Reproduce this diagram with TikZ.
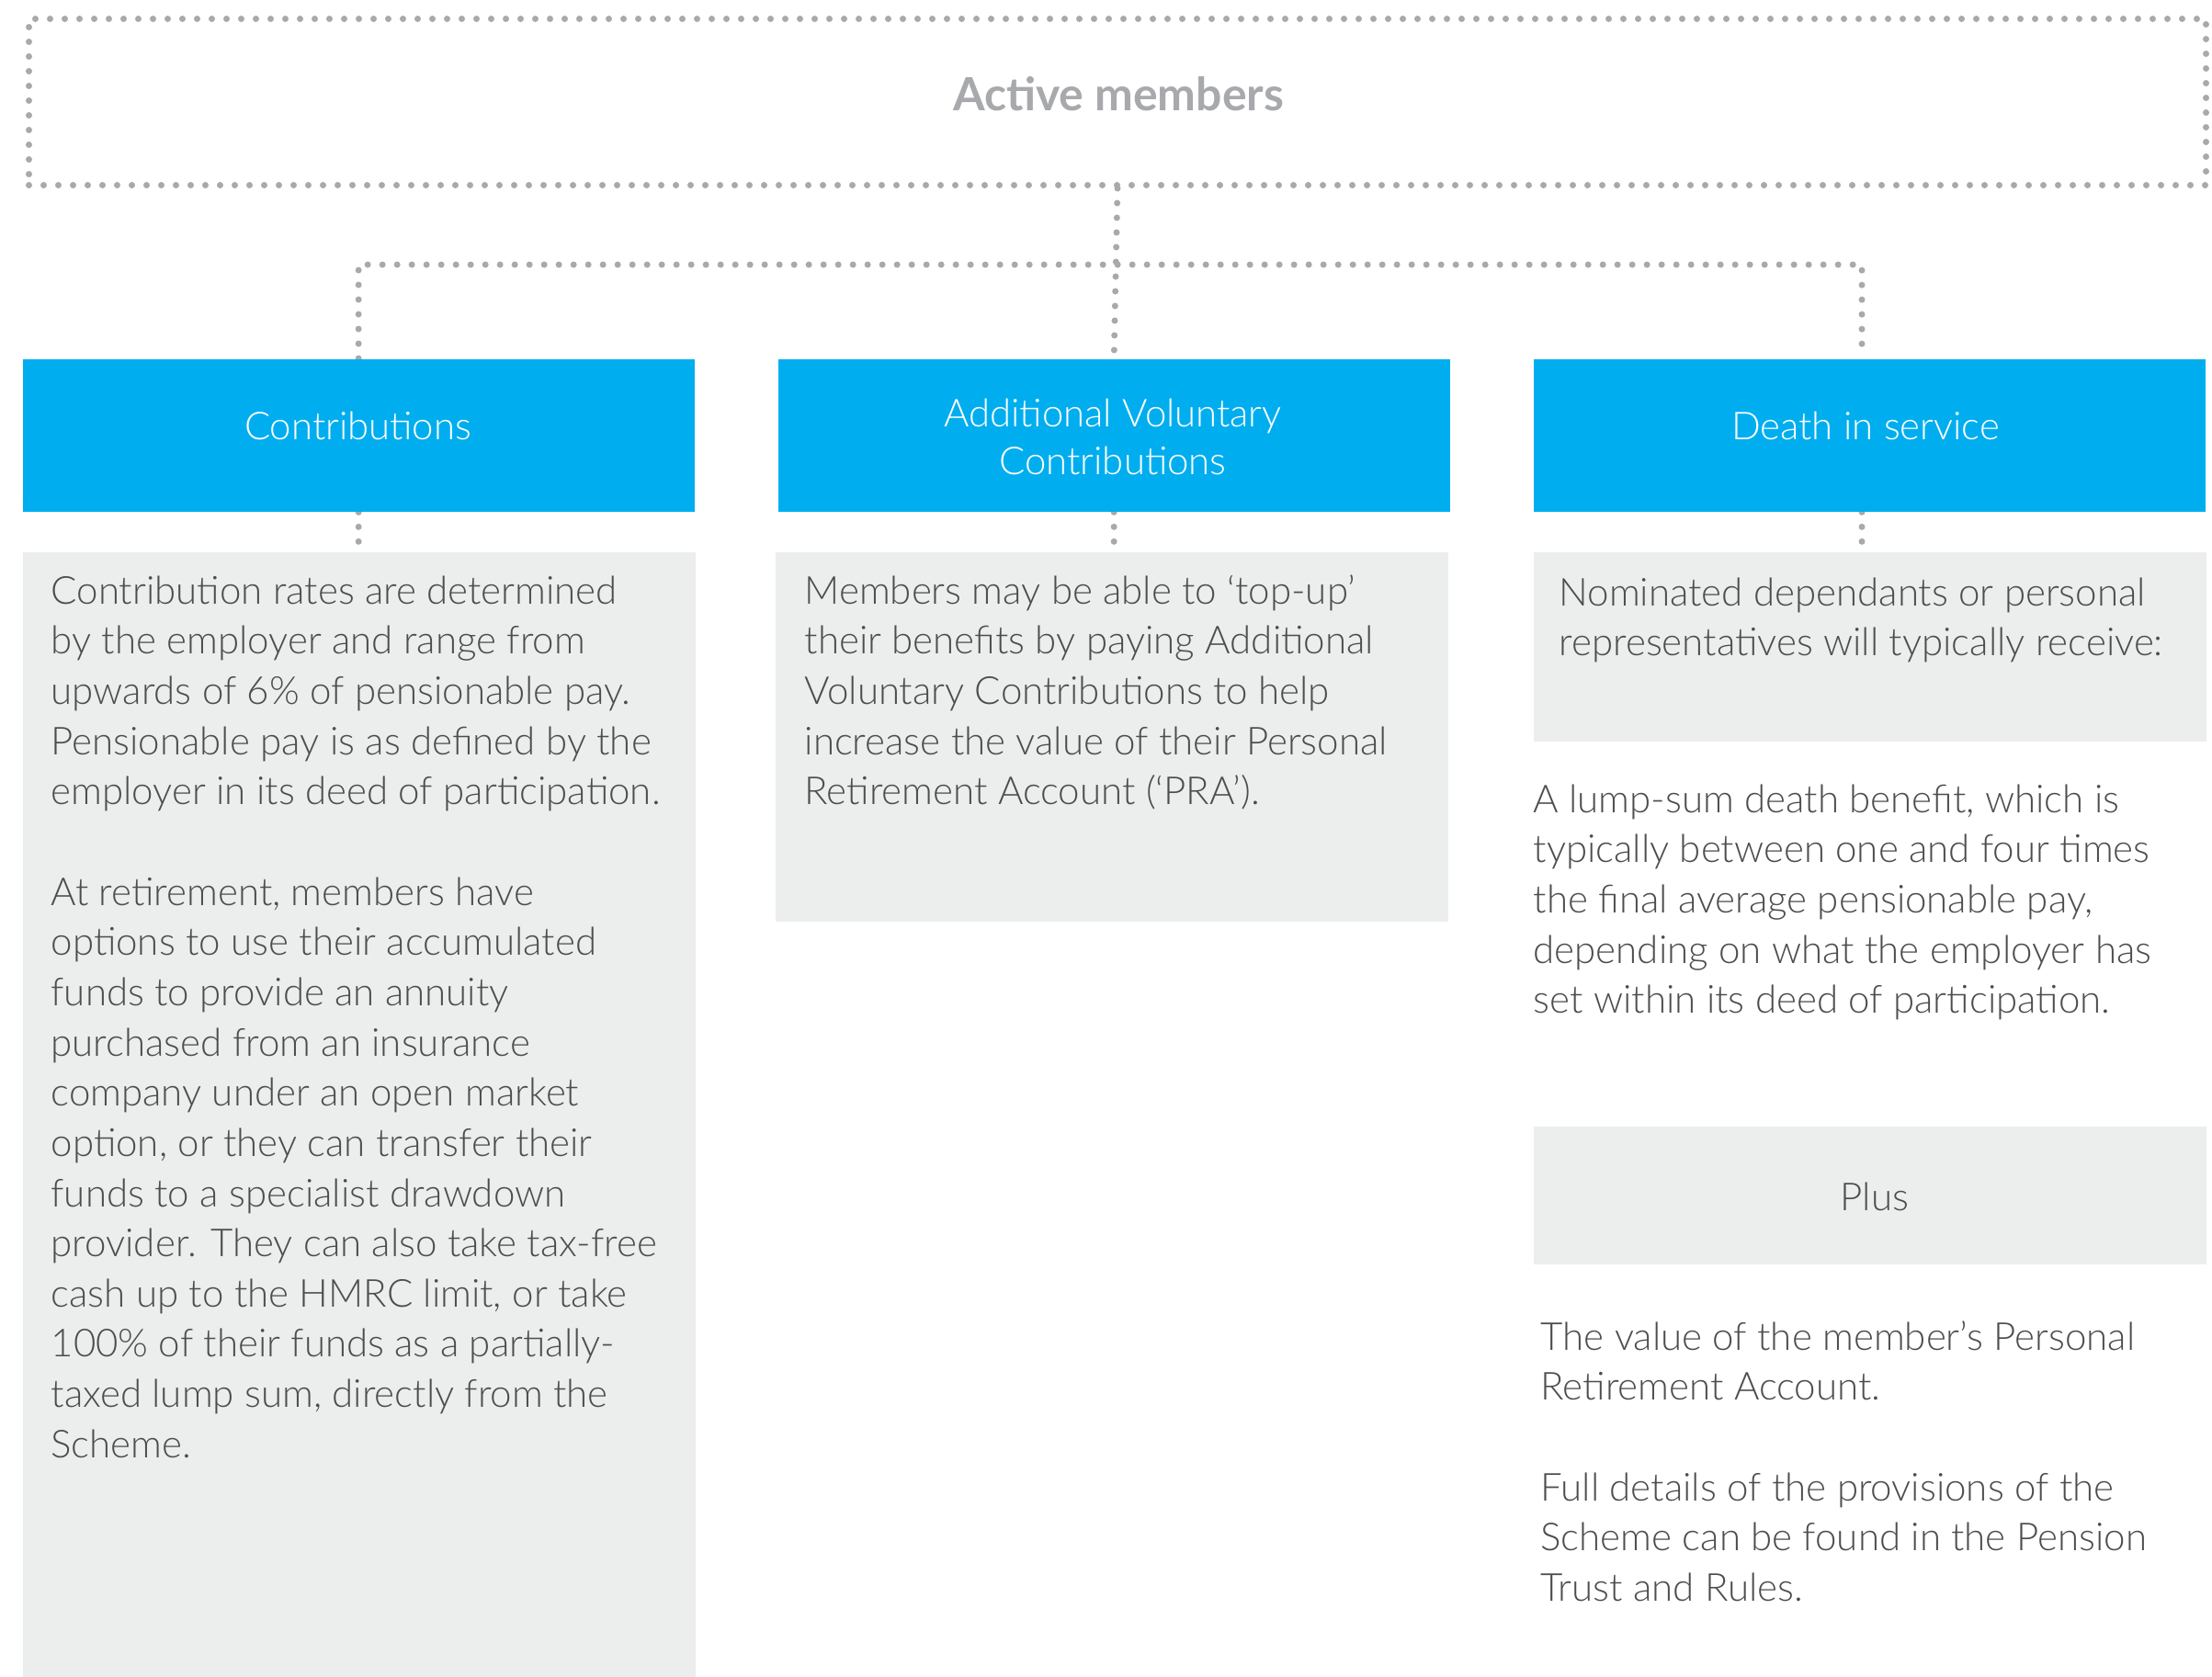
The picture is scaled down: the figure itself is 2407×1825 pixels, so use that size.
\documentclass[tikz,border=0pt]{standalone}
\usepackage{fontspec}
\usetikzlibrary{backgrounds}
\IfFontExistsTF{Lato Light}{\setmainfont{Lato Light}[BoldFont={Lato Bold}]}{\setmainfont{Lato}}
\definecolor{hdrblue}{RGB}{0,174,239}
\definecolor{panelgray}{RGB}{236,237,237}
\definecolor{dotc}{RGB}{167,169,172}
\definecolor{txtc}{RGB}{77,77,79}
\newdimen\wref
\newcommand\fitsz[4]{%
  \settowidth\wref{\normalfont#2\fontsize{10pt}{12pt}\selectfont #3}%
  \xdef#1{\fpeval{round(10*#4/\wref,3)}}}
\AtBeginDocument{%
  \fitsz\bsz{}{Contribution rates are determined}{184.8}%
  \fitsz\hsz{}{Contributions}{74.1}%
  \fitsz\tsz{\bfseries}{Active members}{108}%
}
\newcommand\bodyf{\fontsize{\bsz pt}{16.4pt}\selectfont}
\newcommand\hdrf{\fontsize{\hsz pt}{15.6pt}\selectfont}
\newcommand\titlef{\fontsize{\tsz pt}{18pt}\selectfont\bfseries}
\begin{document}
\begin{tikzpicture}[x=0.3pt,y=-0.3pt,
  dots/.style={draw=dotc, line width=2.1pt, line cap=round, dash pattern=on 0pt off 4.8pt},
  hdrbox/.style={rectangle, fill=hdrblue, anchor=north west, inner sep=0pt, minimum width=219.3pt, minimum height=49.8pt},
  panel/.style={rectangle, fill=panelgray, anchor=north west, inner sep=0pt, minimum width=219.6pt},
  bodytxt/.style={anchor=base west, inner sep=0pt, text=txtc},
  hdrtxt/.style={anchor=base, inner sep=0pt, text=white}]
\useasboundingbox (0,0) rectangle (2407,1825);

% top dotted box
\node[dots, rectangle, anchor=north west, inner sep=0pt, minimum width=710.7pt, minimum height=54.3pt] (top) at (28,17) {};
\node[anchor=base, inner sep=0pt, text=dotc] (title) at (1217,120) {\titlef Active members};

% blue headers
\node[hdrbox] (contrib) at (24,390) {};
\node[hdrbox] (avc) at (846,390) {};
\node[hdrbox] (death) at (1668,390) {};
\node[hdrtxt] (contribL) at (389.5,478) {\hdrf Contributions};
\node[hdrtxt] (avcL) at (1211,464) {\parbox[t]{200pt}{\centering\hdrf Additional Voluntary\\Contributions}};
\node[hdrtxt] (deathL) at (2030,478) {\hdrf Death in service};

% grey panels
\node[panel, minimum height=367.5pt] (cbody) at (24,600) {};
\node[panel, minimum height=120.6pt] (avcbody) at (843,600) {};
\node[panel, minimum height=61.8pt] (dbody) at (1668,600) {};
\node[panel, minimum height=45pt] (plus) at (1668,1225) {};

% connectors
\coordinate (hr) at (2026,288);
\begin{scope}[on background layer]
\draw[dots] (top.south) -- (avc.north);
\draw[dots] (contrib.north) |- (hr) -- (hr |- death.north);
\draw[dots] (contrib.south) -- (contrib.south |- cbody.north);
\draw[dots] (avc.south) -- (avc.south |- avcbody.north);
\draw[dots] (hr |- death.south) -- (hr |- dbody.north);
\end{scope}

% texts
\node[bodytxt] (ctxt) at (55,657) {\parbox[t]{240pt}{\raggedright\bodyf
Contribution rates are determined\\
by the employer and range from\\
upwards of 6\% of pensionable pay.\\
Pensionable pay is as defined by the\\
employer in its deed of participation.\\[16.4pt]
At retirement, members have\\
options to use their accumulated\\
funds to provide an annuity\\
purchased from an insurance\\
company under an open market\\
option, or they can transfer their\\
funds to a specialist drawdown\\
provider. They can also take tax-free\\
cash up to the HMRC limit, or take\\
100\% of their funds as a partially-\\
taxed lump sum, directly from the\\
Scheme.}};

\node[bodytxt] (avctxt) at (875,657) {\parbox[t]{240pt}{\raggedright\bodyf
Members may be able to ‘top-up’\\
their benefits by paying Additional\\
Voluntary Contributions to help\\
increase the value of their Personal\\
Retirement Account (‘PRA’).}};

\node[bodytxt] (dtxt) at (1696,659) {\parbox[t]{240pt}{\raggedright\bodyf
Nominated dependants or personal\\
representatives will typically receive:}};

\node[bodytxt] (lump) at (1668,884) {\parbox[t]{240pt}{\raggedright\bodyf
A lump-sum death benefit, which is\\
typically between one and four times\\
the final average pensionable pay,\\
depending on what the employer has\\
set within its deed of participation.}};

\node[anchor=base, inner sep=0pt, text=txtc] (plusL) at (2040,1317) {\bodyf Plus};

\node[bodytxt] (valtxt) at (1676,1469) {\parbox[t]{240pt}{\raggedright\bodyf
The value of the member’s Personal\\
Retirement Account.\\[16.4pt]
Full details of the provisions of the\\
Scheme can be found in the Pension\\
Trust and Rules.}};
\end{tikzpicture}
\end{document}
